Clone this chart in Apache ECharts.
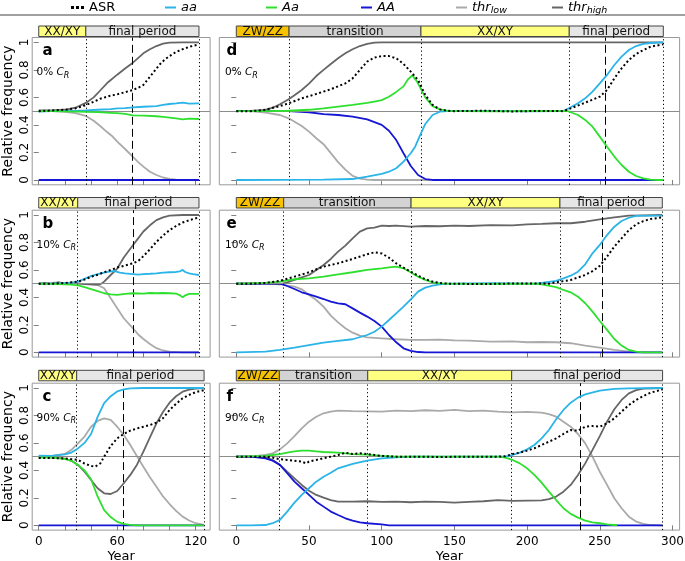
<!DOCTYPE html>
<html><head><meta charset="utf-8">
<script src="https://cdn.jsdelivr.net/npm/echarts@6/dist/echarts.min.js"></script>
<style>html,body{margin:0;padding:0;background:#fff}#c{width:685px;height:561px}</style>
</head><body><div id="c"></div>
<script>
// ---------------- DATA ----------------
const seriesNames = ['thr_low','thr_high','AA','aa','Aa','ASR'];
const xTicksLeft = [0,20,40,60,80,100,120];
const xLabelsLeft = [0,60,120];
const xTicksRight = [0,50,100,150,200,250,300];
const yTicks = [0,0.2,0.4,0.6,0.8,1];
const yTickLabels = ['0','0.2','0.4','0.6','0.8','1'];

// panel a (0% C_R)
const a_periods = ['XX/XY','final period'];
const a_breaks = [0,36,122.5];
const a_dashed = 71.6;
const a_ASR = [[0,0.5],[10,0.505],[20,0.51],[28,0.52],[34,0.537],[40,0.56],[47,0.59],[54,0.61],[60,0.622],[66,0.638],[72,0.654],[76,0.67],[80,0.69],[85,0.75],[90,0.81],[93,0.845],[97,0.88],[100,0.9],[105,0.93],[110,0.95],[115,0.967],[122.5,0.985]];
const a_aa = [[0,0.497],[10,0.5],[20,0.5],[30,0.503],[36,0.505],[45,0.51],[55,0.515],[60,0.52],[66,0.522],[72,0.528],[80,0.532],[90,0.537],[95,0.545],[100,0.552],[105,0.556],[110,0.562],[115,0.555],[122.5,0.557]];
const a_Aa = [[0,0.5],[10,0.5],[20,0.498],[30,0.497],[36,0.495],[45,0.493],[55,0.488],[60,0.485],[66,0.48],[72,0.47],[80,0.468],[90,0.463],[95,0.458],[100,0.453],[105,0.447],[110,0.44],[115,0.445],[122.5,0.443]];
const a_AA = [[0,0],[122.5,0]];
const a_thrLow = [[0,0.5],[10,0.5],[20,0.495],[28,0.485],[36,0.465],[42,0.43],[47,0.392],[52,0.35],[56,0.32],[60,0.278],[66,0.225],[72,0.168],[76,0.13],[80,0.097],[85,0.06],[90,0.036],[95,0.018],[100,0.008],[105,0.003],[110,0],[122.5,0]];
const a_thrHigh = [[0,0.505],[10,0.505],[20,0.51],[28,0.525],[36,0.56],[42,0.6],[47,0.65],[53,0.71],[60,0.765],[66,0.81],[72,0.852],[80,0.92],[85,0.95],[90,0.973],[95,0.99],[100,0.998],[110,1],[122.5,1]];

// panel b (10% C_R)
const b_periods = ['XX/XY','final period'];
const b_breaks = [0,29.8,122.5];
const b_dashed = 71.9;
const b_ASR = [[0,0.5],[10,0.5],[20,0.505],[30,0.515],[35,0.53],[40,0.55],[45,0.565],[50,0.583],[55,0.6],[60,0.617],[66,0.632],[72,0.648],[76,0.665],[80,0.7],[85,0.75],[90,0.805],[95,0.85],[100,0.89],[105,0.92],[110,0.945],[116,0.965],[122.5,0.983]];
const b_aa = [[0,0.5],[10,0.5],[20,0.505],[25,0.508],[30,0.515],[35,0.535],[40,0.555],[45,0.57],[50,0.58],[55,0.59],[58,0.592],[62,0.58],[66,0.575],[72,0.57],[76,0.565],[80,0.57],[85,0.572],[90,0.575],[95,0.58],[100,0.583],[105,0.585],[108,0.59],[110,0.6],[112,0.585],[115,0.575],[118,0.57],[122.5,0.563]];
const b_Aa = [[0,0.5],[10,0.498],[20,0.495],[25,0.493],[30,0.488],[35,0.475],[40,0.46],[45,0.445],[50,0.43],[55,0.422],[60,0.418],[66,0.425],[72,0.43],[80,0.428],[85,0.432],[90,0.43],[95,0.432],[100,0.43],[105,0.428],[108,0.415],[110,0.4],[112,0.415],[115,0.425],[122.5,0.425]];
const b_AA = [[0,0],[122.5,0]];
const b_thrLow = [[0,0.5],[5,0.495],[10,0.505],[15,0.51],[20,0.5],[25,0.51],[30,0.5],[35,0.497],[40,0.495],[45,0.49],[50,0.466],[55,0.393],[60,0.32],[65,0.248],[72,0.175],[76,0.13],[80,0.097],[85,0.06],[90,0.03],[95,0.013],[100,0.005],[110,0],[122.5,0]];
const b_thrHigh = [[0,0.5],[5,0.505],[10,0.497],[15,0.51],[20,0.5],[25,0.505],[30,0.502],[35,0.497],[40,0.495],[45,0.493],[48,0.5],[50,0.515],[55,0.563],[60,0.61],[65,0.69],[72,0.78],[76,0.83],[80,0.88],[85,0.925],[90,0.963],[95,0.983],[100,0.995],[110,1],[122.5,1]];

// panel c (90% C_R)
const c_periods = ['XX/XY','final period'];
const c_breaks = [0,29,126.4];
const c_dashed = 64.7;
const c_ASR = [[0,0.49],[10,0.49],[20,0.487],[25,0.482],[30,0.476],[35,0.45],[40,0.432],[43,0.427],[47,0.45],[50,0.5],[55,0.578],[60,0.633],[65,0.665],[70,0.69],[75,0.705],[80,0.718],[85,0.73],[90,0.748],[95,0.78],[100,0.84],[105,0.885],[110,0.925],[115,0.95],[120,0.97],[126.4,0.985]];
const c_aa = [[0,0.507],[10,0.505],[20,0.517],[25,0.53],[30,0.56],[35,0.6],[40,0.665],[45,0.79],[50,0.89],[55,0.94],[60,0.975],[65,0.99],[70,0.997],[80,1],[126.4,1]];
const c_Aa = [[0,0.493],[10,0.495],[20,0.483],[25,0.47],[30,0.44],[35,0.4],[40,0.335],[45,0.21],[50,0.11],[55,0.06],[60,0.025],[65,0.01],[70,0.003],[75,0],[126.4,0]];
const c_AA = [[0,0],[126.4,0]];
const c_thrLow = [[0,0.5],[10,0.505],[20,0.52],[25,0.55],[30,0.597],[35,0.646],[40,0.718],[45,0.76],[50,0.779],[55,0.767],[60,0.718],[65,0.658],[70,0.585],[75,0.505],[80,0.427],[85,0.35],[90,0.28],[95,0.21],[100,0.155],[105,0.105],[110,0.063],[115,0.035],[120,0.015],[126.4,0.003]];
const c_thrHigh = [[0,0.5],[10,0.495],[20,0.485],[25,0.47],[30,0.44],[35,0.39],[40,0.33],[45,0.27],[50,0.233],[55,0.228],[60,0.25],[65,0.306],[70,0.367],[75,0.44],[80,0.536],[85,0.64],[90,0.743],[95,0.825],[100,0.893],[105,0.94],[110,0.973],[115,0.988],[120,0.995],[126.4,1]];

// panel d (0% C_R)
const d_periods = ['ZW/ZZ','transition','XX/XY','final period'];
const d_breaks = [0,36.3,127,229,293.7];
const d_dashed = 254;
const d_ASR = [[0,0.5],[10,0.5],[20,0.51],[30,0.537],[36,0.557],[45,0.593],[55,0.625],[65,0.659],[75,0.702],[80,0.738],[85,0.8],[90,0.86],[95,0.889],[100,0.9],[105,0.9],[110,0.884],[115,0.843],[120,0.787],[125,0.726],[130,0.617],[135,0.545],[140,0.513],[145,0.503],[150,0.5],[170,0.503],[190,0.498],[210,0.502],[225,0.5],[230,0.52],[240,0.562],[250,0.605],[255,0.654],[260,0.738],[265,0.811],[270,0.872],[275,0.915],[280,0.944],[285,0.969],[293.7,0.985]];
const d_aa = [[0,0],[60,0.003],[80,0.007],[90,0.024],[100,0.044],[105,0.06],[110,0.085],[115,0.133],[120,0.194],[123,0.242],[126,0.315],[130,0.407],[135,0.472],[140,0.496],[145,0.5],[170,0.502],[200,0.498],[225,0.5],[230,0.528],[235,0.557],[240,0.593],[245,0.642],[250,0.702],[255,0.763],[260,0.835],[265,0.896],[270,0.944],[275,0.973],[280,0.988],[285,0.995],[293.7,1]];
const d_Aa = [[0,0.5],[20,0.5],[36,0.503],[50,0.51],[60,0.52],[70,0.533],[80,0.545],[90,0.56],[95,0.57],[100,0.58],[105,0.605],[110,0.64],[115,0.68],[118,0.73],[121,0.76],[124,0.72],[127,0.66],[130,0.6],[135,0.537],[140,0.513],[145,0.503],[150,0.5],[180,0.498],[210,0.502],[228,0.5],[230,0.492],[235,0.472],[240,0.436],[245,0.387],[250,0.315],[255,0.242],[260,0.17],[265,0.109],[270,0.06],[275,0.029],[280,0.012],[285,0.003],[290,0],[293.7,0]];
const d_AA = [[0,0.5],[20,0.5],[36,0.501],[50,0.492],[60,0.479],[70,0.472],[80,0.46],[90,0.44],[100,0.4],[105,0.358],[110,0.29],[115,0.194],[120,0.102],[125,0.036],[130,0.007],[135,0],[293.7,0]];
const d_thrLow = [[0,0.5],[10,0.5],[20,0.49],[30,0.472],[36,0.448],[45,0.392],[50,0.351],[55,0.303],[60,0.26],[65,0.195],[70,0.13],[75,0.075],[80,0.03],[85,0.01],[90,0.002],[95,0],[293.7,0]];
const d_thrHigh = [[0,0.5],[10,0.502],[20,0.51],[25,0.525],[30,0.55],[36,0.586],[40,0.615],[45,0.654],[50,0.7],[55,0.755],[60,0.8],[65,0.843],[70,0.884],[75,0.92],[80,0.95],[85,0.973],[90,0.988],[95,0.998],[100,1],[293.7,1]];

// panel e (10% C_R)
const e_periods = ['ZW/ZZ','transition','XX/XY','final period'];
const e_breaks = [0,32.6,120.2,222.6,293];
const e_dashed = 252;
const e_ASR = [[0,0.5],[10,0.5],[20,0.505],[30,0.52],[40,0.551],[50,0.583],[60,0.624],[70,0.648],[80,0.68],[90,0.714],[95,0.728],[100,0.72],[105,0.689],[110,0.648],[115,0.617],[120,0.587],[125,0.558],[130,0.532],[135,0.515],[140,0.505],[145,0.5],[170,0.497],[195,0.502],[215,0.5],[220,0.51],[230,0.527],[240,0.563],[245,0.592],[250,0.629],[255,0.697],[260,0.77],[265,0.83],[270,0.89],[275,0.932],[280,0.956],[285,0.971],[293,0.983]];
const e_aa = [[0,0],[20,0.005],[30,0.017],[40,0.034],[50,0.053],[60,0.07],[70,0.083],[80,0.095],[90,0.126],[95,0.15],[100,0.187],[105,0.235],[110,0.284],[115,0.333],[120,0.386],[125,0.442],[130,0.471],[135,0.485],[140,0.495],[145,0.5],[175,0.503],[205,0.5],[210,0.505],[220,0.52],[225,0.539],[230,0.558],[235,0.587],[240,0.641],[245,0.721],[250,0.782],[255,0.854],[260,0.915],[265,0.956],[270,0.98],[275,0.993],[293,0.995]];
const e_Aa = [[0,0.5],[20,0.505],[30,0.515],[40,0.532],[50,0.539],[60,0.551],[70,0.568],[80,0.583],[90,0.6],[100,0.612],[105,0.619],[110,0.624],[115,0.612],[120,0.583],[125,0.551],[130,0.527],[135,0.51],[140,0.502],[145,0.5],[175,0.498],[205,0.5],[210,0.495],[220,0.475],[225,0.454],[230,0.437],[235,0.405],[240,0.357],[245,0.296],[250,0.228],[255,0.163],[260,0.097],[265,0.049],[270,0.017],[275,0.005],[280,0],[293,0]];
const e_AA = [[0,0.5],[20,0.5],[30,0.5],[35,0.483],[40,0.461],[45,0.437],[50,0.422],[55,0.405],[60,0.388],[65,0.369],[70,0.357],[75,0.35],[80,0.32],[85,0.289],[90,0.26],[95,0.228],[100,0.187],[105,0.126],[110,0.073],[115,0.029],[120,0.01],[125,0.002],[130,0],[293,0]];
const e_thrLow = [[0,0.5],[20,0.5],[30,0.5],[35,0.485],[40,0.478],[45,0.459],[50,0.417],[55,0.381],[60,0.333],[65,0.267],[70,0.218],[75,0.175],[80,0.143],[85,0.121],[90,0.109],[100,0.102],[110,0.095],[120,0.09],[130,0.09],[140,0.092],[150,0.087],[160,0.085],[175,0.078],[190,0.08],[200,0.073],[210,0.075],[220,0.073],[230,0.066],[240,0.049],[250,0.034],[260,0.017],[270,0.005],[280,0],[293,0]];
const e_thrHigh = [[0,0.5],[10,0.5],[20,0.5],[30,0.495],[35,0.51],[40,0.527],[45,0.545],[50,0.563],[55,0.6],[60,0.636],[65,0.68],[70,0.733],[75,0.777],[80,0.83],[85,0.879],[90,0.903],[95,0.908],[100,0.922],[105,0.92],[110,0.922],[120,0.915],[130,0.92],[140,0.918],[150,0.922],[160,0.92],[175,0.927],[190,0.925],[200,0.932],[210,0.935],[220,0.94],[230,0.94],[240,0.951],[250,0.968],[260,0.983],[270,0.995],[280,0.998],[293,1]];

// panel f (90% C_R)
const f_periods = ['ZW/ZZ','transition','XX/XY','final period'];
const f_breaks = [0,29.6,90.4,189.4,293.2];
const f_dashed = 236.4;
const f_ASR = [[0,0.5],[20,0.5],[25,0.493],[30,0.481],[35,0.476],[40,0.471],[45,0.464],[48,0.451],[50,0.464],[55,0.476],[60,0.488],[70,0.512],[75,0.529],[80,0.519],[85,0.524],[90,0.519],[95,0.512],[100,0.505],[110,0.5],[140,0.498],[180,0.5],[185,0.503],[190,0.519],[195,0.529],[200,0.544],[205,0.561],[210,0.585],[215,0.609],[220,0.633],[225,0.665],[230,0.694],[235,0.689],[240,0.718],[245,0.723],[250,0.718],[255,0.743],[260,0.779],[265,0.828],[270,0.876],[275,0.913],[280,0.942],[285,0.966],[293.2,0.99]];
const f_aa = [[0,0],[10,0],[20,0.002],[25,0.015],[30,0.039],[35,0.1],[40,0.165],[45,0.221],[50,0.27],[55,0.318],[60,0.354],[65,0.383],[70,0.415],[80,0.447],[90,0.471],[100,0.488],[110,0.495],[120,0.5],[185,0.5],[190,0.512],[195,0.529],[200,0.553],[205,0.585],[210,0.633],[215,0.694],[220,0.772],[225,0.84],[230,0.893],[235,0.93],[240,0.954],[250,0.981],[260,0.993],[270,0.998],[293.2,1]];
const f_Aa = [[0,0.5],[20,0.505],[25,0.512],[30,0.519],[35,0.529],[40,0.539],[45,0.544],[50,0.544],[55,0.539],[60,0.534],[70,0.529],[80,0.519],[90,0.515],[100,0.505],[110,0.5],[180,0.5],[185,0.493],[190,0.476],[195,0.451],[200,0.415],[205,0.367],[210,0.311],[215,0.245],[220,0.184],[225,0.124],[230,0.083],[235,0.056],[240,0.034],[245,0.022],[250,0.015],[255,0.007],[260,0.002],[262,0]];
const f_AA = [[0,0.5],[10,0.5],[20,0.488],[25,0.471],[30,0.44],[35,0.379],[40,0.318],[45,0.27],[50,0.221],[55,0.172],[60,0.136],[65,0.1],[70,0.075],[75,0.051],[80,0.034],[85,0.022],[90,0.015],[100,0.007],[105,0],[293.2,0]];
const f_thrLow = [[0,0.5],[10,0.5],[20,0.512],[25,0.524],[30,0.553],[35,0.597],[40,0.65],[45,0.706],[50,0.755],[55,0.791],[60,0.816],[65,0.828],[70,0.835],[80,0.832],[90,0.83],[100,0.828],[110,0.835],[120,0.832],[130,0.838],[140,0.833],[150,0.84],[160,0.832],[170,0.835],[180,0.828],[190,0.823],[200,0.826],[210,0.82],[215,0.81],[220,0.791],[225,0.755],[230,0.718],[235,0.665],[240,0.597],[245,0.5],[250,0.39],[255,0.294],[260,0.197],[265,0.124],[270,0.063],[275,0.027],[280,0.01],[285,0.002],[293.2,0]];
const f_thrHigh = [[0,0.5],[10,0.5],[20,0.495],[25,0.476],[30,0.44],[35,0.39],[40,0.342],[45,0.294],[50,0.252],[55,0.221],[60,0.201],[65,0.184],[70,0.172],[80,0.172],[90,0.175],[100,0.17],[110,0.172],[120,0.168],[130,0.172],[140,0.17],[150,0.165],[160,0.17],[170,0.175],[180,0.184],[190,0.178],[200,0.18],[210,0.182],[215,0.19],[220,0.209],[225,0.245],[230,0.294],[235,0.367],[240,0.451],[245,0.549],[250,0.65],[255,0.755],[260,0.845],[265,0.913],[270,0.961],[275,0.985],[280,0.995],[293.2,1]];

// ---------------- STYLE / LAYOUT ----------------
const FONT = 'DejaVu Sans';
const colors = {ASR:'#000000', aa:'#2ab4e8', Aa:'#2ee02e', AA:'#1616d4', thr_low:'#aaaaaa', thr_high:'#666666'};
const periodColors = {'ZW/ZZ':'#f7c200','transition':'#d3d3d3','XX/XY':'#ffff80','final period':'#e6e6e6'};
const rowTop = [37.5, 210.2, 383.2];
const rowH = [147.3, 146.9, 146.9];
const barTop = [26, 197.5, 370.3];
const barH = 10.5;
const colLeft = [32.2, 219.3];
const colW = [177.9, 460.3];
const colRange = [[-5,131],[-11.7,304.9]];
const yMin = -0.035, yMax = 1.035;

const panels = [
  {lab:'a', cr:'0%', col:0,row:0, periods:a_periods, breaks:a_breaks, dashed:a_dashed, s:{ASR:a_ASR,aa:a_aa,Aa:a_Aa,AA:a_AA,thr_low:a_thrLow,thr_high:a_thrHigh}},
  {lab:'b', cr:'10%', col:0,row:1, periods:b_periods, breaks:b_breaks, dashed:b_dashed, s:{ASR:b_ASR,aa:b_aa,Aa:b_Aa,AA:b_AA,thr_low:b_thrLow,thr_high:b_thrHigh}},
  {lab:'c', cr:'90%', col:0,row:2, periods:c_periods, breaks:c_breaks, dashed:c_dashed, s:{ASR:c_ASR,aa:c_aa,Aa:c_Aa,AA:c_AA,thr_low:c_thrLow,thr_high:c_thrHigh}},
  {lab:'d', cr:'0%', col:1,row:0, periods:d_periods, breaks:d_breaks, dashed:d_dashed, s:{ASR:d_ASR,aa:d_aa,Aa:d_Aa,AA:d_AA,thr_low:d_thrLow,thr_high:d_thrHigh}},
  {lab:'e', cr:'10%', col:1,row:1, periods:e_periods, breaks:e_breaks, dashed:e_dashed, s:{ASR:e_ASR,aa:e_aa,Aa:e_Aa,AA:e_AA,thr_low:e_thrLow,thr_high:e_thrHigh}},
  {lab:'f', cr:'90%', col:1,row:2, periods:f_periods, breaks:f_breaks, dashed:f_dashed, s:{ASR:f_ASR,aa:f_aa,Aa:f_Aa,AA:f_AA,thr_low:f_thrLow,thr_high:f_thrHigh}}
];

const grid=[], xAxis=[], yAxis=[], series=[], title=[];
const tickStyle = {color:'#808080', width:1};

panels.forEach((p,i)=>{
  const left = colLeft[p.col], width = colW[p.col];
  const bottomRow = p.row===2, leftCol = p.col===0;
  grid.push({left, top:rowTop[p.row], width, height:rowH[p.row], show:true, borderColor:'#999', borderWidth:1, backgroundColor:'transparent', outerBoundsMode:'none', containLabel:false});
  xAxis.push({gridIndex:i, type:'value', min:colRange[p.col][0], max:colRange[p.col][1],
    axisLine:{show:false}, splitLine:{show:false},
    axisTick:{show:true, length:5, customValues: p.col===0?xTicksLeft:xTicksRight, lineStyle:tickStyle},
    axisLabel:{show:bottomRow, customValues: p.col===0?xLabelsLeft:xTicksRight, color:'#000', fontSize:12, fontFamily:FONT, margin:6},
    name: bottomRow?'Year':'', nameLocation:'middle', nameGap:20, nameTextStyle:{color:'#000', fontSize:13, fontFamily:FONT}
  });
  yAxis.push({gridIndex:i, type:'value', min:yMin, max:yMax,
    axisLine:{show:false}, splitLine:{show:false},
    axisTick:{show:true, length:5, customValues:yTicks, lineStyle:tickStyle},
    axisLabel:{show:false},
    name: leftCol?'Relative frequency':'', nameLocation:'middle', nameGap:17, nameTextStyle:{color:'#000', fontSize:14, fontFamily:FONT}
  });
  seriesNames.forEach((n,k)=>{
    const ser = {name:n, type:'line', xAxisIndex:i, yAxisIndex:i, data:p.s[n], showSymbol:false, symbol:'none',
      lineStyle:{color:colors[n], width:n==='ASR'?2:1.8, type:n==='ASR'?[2,2.5]:'solid'}, itemStyle:{color:colors[n]}, z:2+k, silent:true};
    if(k===0){
      const ml = [{yAxis:0.5, lineStyle:{color:'#8c8c8c', width:1.2, type:'solid'}}];
      p.breaks.slice(1).forEach(b=>ml.push({xAxis:b, lineStyle:{color:'#000', width:1, type:[1.2,2.6]}}));
      ml.push({xAxis:p.dashed, lineStyle:{color:'#000', width:1, type:[8,4]}});
      ser.markLine = {silent:true, symbol:['none','none'], label:{show:false}, animation:false, data:ml};
    }
    series.push(ser);
  });
  // rotated y tick labels (R style, reading bottom-to-top), placed via the panel's own y scale
  if(leftCol){
    series.push({type:'custom', xAxisIndex:i, yAxisIndex:i, silent:true, clip:false, z:10,
      data: yTicks.map((v,k)=>[v,k]), encode:{y:0},
      renderItem:(params, api)=>{
        const pt = api.coord([colRange[0][0], api.value(0)]);
        return {type:'text', x:pt[0]-7.5, y:pt[1], rotation:Math.PI/2,
          style:{text:yTickLabels[api.value(1)], align:'center', verticalAlign:'middle', fontSize:12, fontFamily:FONT, fill:'#000'}};
      }
    });
  }
  const lx = p.col===0 ? 42.5 : 226.5;
  const cx = p.col===0 ? 36.5 : 225;
  title.push({left:lx, top:rowTop[p.row]+6, padding:0, text:p.lab, textStyle:{fontSize:15, fontWeight:'bold', fontFamily:FONT, color:'#000'}});
  title.push({left:cx, top:rowTop[p.row]+28, padding:0, text:p.cr+' {i|C}{s|R}', textStyle:{fontSize:10.5, fontWeight:'normal', fontFamily:FONT, color:'#000',
    rich:{i:{fontSize:10.5, fontStyle:'italic', fontFamily:FONT}, s:{fontSize:8, fontStyle:'italic', fontFamily:FONT, padding:[6,0,0,0]}}}});
});

// period bars
panels.forEach((p,i)=>{
  const gi = grid.length;
  grid.push({left:colLeft[p.col], top:barTop[p.row], width:colW[p.col], height:barH, show:false, outerBoundsMode:'none', containLabel:false});
  xAxis.push({gridIndex:gi, type:'value', min:colRange[p.col][0], max:colRange[p.col][1], show:false});
  yAxis.push({gridIndex:gi, type:'value', min:0, max:1, show:false});
  series.push({type:'custom', xAxisIndex:gi, yAxisIndex:gi, silent:true,
    data:p.periods.map((name,k)=>[p.breaks[k], p.breaks[k+1], k]),
    encode:{x:[0,1]},
    renderItem:(params, api)=>{
      const name = p.periods[api.value(2)];
      const a = api.coord([api.value(0),0]);
      const b = api.coord([api.value(1),1]);
      return {type:'group', children:[
        {type:'rect', shape:{x:a[0], y:b[1], width:b[0]-a[0], height:a[1]-b[1]}, style:{fill:periodColors[name], stroke:'#444', lineWidth:1}},
        {type:'text', style:{text:name, x:(a[0]+b[0])/2, y:(a[1]+b[1])/2+0.5, align:'center', verticalAlign:'middle', fontSize:12, fontFamily:FONT, fill:'#111'}}
      ]};
    }
  });
});

// legends (one per item)
const legendLeft = {ASR:71, aa:165, Aa:266, AA:361, thr_low:456, thr_high:552};
const legendText = {ASR:'ASR', aa:'{i|aa}', Aa:'{i|Aa}', AA:'{i|AA}', thr_low:'{i|thr}{s|low}', thr_high:'{i|thr}{s|high}'};
const legend = ['ASR','aa','Aa','AA','thr_low','thr_high'].map(n=>({
  data:[n], left:legendLeft[n], top:1, padding:0, itemGap:5, selectedMode:false,
  icon: n==='ASR' ? 'path://M0,0h3v3h-3zM5,0h3v3h-3zM10,0h3v3h-3z' : 'rect',
  itemWidth: n==='ASR'?13:11, itemHeight: n==='ASR'?3:2,
  formatter: name=>legendText[name],
  textStyle:{fontSize:13, fontFamily:FONT, color:'#000', rich:{i:{fontSize:13, fontStyle:'italic', fontFamily:FONT}, s:{fontSize:9.5, fontStyle:'italic', fontFamily:FONT, padding:[7,0,0,0]}}}
}));

const chart = echarts.init(document.getElementById('c'), null, {renderer:'canvas'});
chart.setOption({
  animation:false, backgroundColor:'#fff',
  title, legend, grid, xAxis, yAxis, series,
  graphic:[{type:'line', shape:{x1:0, y1:15, x2:685, y2:15}, style:{stroke:'#a0a0a0', lineWidth:2}, silent:true}]
});
</script></body></html>
